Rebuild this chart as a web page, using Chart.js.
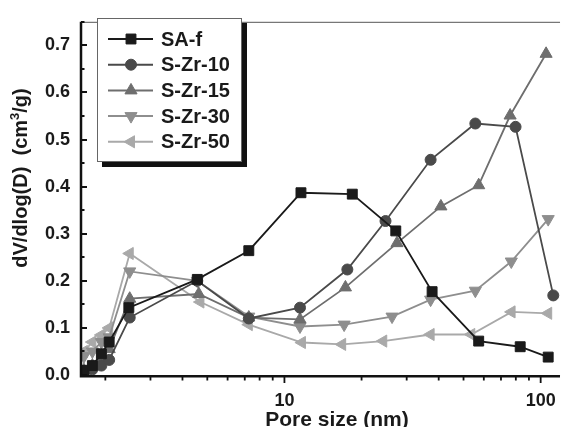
<!DOCTYPE html>
<html><head><meta charset="utf-8">
<script src="https://cdn.jsdelivr.net/npm/chart.js@4"></script>
<style>html,body{margin:0;padding:0;background:#fff}#wrap{width:571px;height:427px;position:relative}</style>
</head><body><div id="wrap"><canvas id="c" width="571" height="427"></canvas></div>
<script>
const seriesNames = ['SA-f', 'S-Zr-10', 'S-Zr-15', 'S-Zr-30', 'S-Zr-50'];

const poreSAf = [1.65, 1.78, 1.93, 2.07, 2.47, 4.57, 7.26, 11.6, 18.4, 27.2, 37.7, 57.3, 83.2, 107];
const dvSAf   = [0.010, 0.020, 0.045, 0.070, 0.143, 0.203, 0.264, 0.387, 0.384, 0.306, 0.177, 0.072, 0.060, 0.038];

const poreZr10 = [1.65, 1.78, 1.93, 2.07, 2.49, 4.57, 7.26, 11.5, 17.6, 24.8, 37.2, 55.6, 79.8, 112];
const dvZr10   = [0.008, 0.012, 0.020, 0.032, 0.122, 0.200, 0.120, 0.143, 0.224, 0.327, 0.457, 0.534, 0.527, 0.169];

const poreZr15 = [1.65, 1.78, 1.93, 2.07, 2.49, 4.63, 7.26, 11.5, 17.3, 27.5, 40.8, 57.3, 76, 105];
const dvZr15   = [0.010, 0.020, 0.035, 0.055, 0.162, 0.172, 0.122, 0.118, 0.186, 0.280, 0.358, 0.403, 0.551, 0.682];

const poreZr30 = [1.65, 1.78, 1.93, 2.07, 2.49, 4.57, 7.26, 11.5, 17.1, 26.3, 37.2, 55.6, 76.8, 107];
const dvZr30   = [0.040, 0.050, 0.070, 0.080, 0.220, 0.200, 0.124, 0.103, 0.107, 0.124, 0.160, 0.179, 0.241, 0.331];

const poreZr50 = [1.65, 1.78, 1.93, 2.07, 2.49, 4.70, 7.26, 11.7, 16.8, 24.3, 37.2, 53.6, 77, 107];
const dvZr50   = [0.050, 0.070, 0.085, 0.100, 0.258, 0.155, 0.107, 0.069, 0.065, 0.072, 0.086, 0.086, 0.134, 0.131];

const yTickValues = [0.0, 0.1, 0.2, 0.3, 0.4, 0.5, 0.6, 0.7];
const xTickLabels = [10, 100];
const xTitle = 'Pore size (nm)';
const yTitleParts = ['dV/dlog(D)  (cm', '3', '/g)'];

const colors = ['#1a1a1a', '#4a4a4a', '#6e6e6e', '#8e8e8e', '#a9a9a9'];
const styles = [
  {pointStyle: 'rect', radius: 7, rotation: 0},
  {pointStyle: 'circle', radius: 5.5, rotation: 0},
  {pointStyle: 'triangle', radius: 7, rotation: 0},
  {pointStyle: 'triangle', radius: 7, rotation: 180},
  {pointStyle: 'triangle', radius: 7, rotation: -90}
];

const xs = [poreSAf, poreZr10, poreZr15, poreZr30, poreZr50];
const ys = [dvSAf, dvZr10, dvZr15, dvZr30, dvZr50];

const datasets = seriesNames.map((name, i) => ({
  label: name,
  data: xs[i].map((x, j) => ({x: x, y: ys[i][j]})),
  borderColor: colors[i],
  backgroundColor: colors[i],
  borderWidth: 1.8,
  pointStyle: styles[i].pointStyle,
  pointRadius: styles[i].radius,
  pointRotation: styles[i].rotation,
  pointBorderWidth: 1,
  pointBackgroundColor: colors[i],
  pointBorderColor: colors[i],
  tension: 0
}));

function drawMarker(ctx, st, color, x, y) {
  const r = st.radius;
  ctx.save();
  ctx.fillStyle = color; ctx.strokeStyle = color; ctx.lineWidth = 1;
  ctx.beginPath();
  if (st.pointStyle === 'rect') {
    const s = Math.SQRT1_2 * r;
    ctx.rect(x - s, y - s, 2 * s, 2 * s);
  } else if (st.pointStyle === 'circle') {
    ctx.arc(x, y, r, 0, Math.PI * 2);
  } else {
    let rad = st.rotation * Math.PI / 180;
    ctx.moveTo(x + Math.sin(rad) * r, y - Math.cos(rad) * r);
    rad += 2 * Math.PI / 3;
    ctx.lineTo(x + Math.sin(rad) * r, y - Math.cos(rad) * r);
    rad += 2 * Math.PI / 3;
    ctx.lineTo(x + Math.sin(rad) * r, y - Math.cos(rad) * r);
    ctx.closePath();
  }
  ctx.fill(); ctx.stroke();
  ctx.restore();
}

const decor = {
  id: 'decor',
  afterDraw(chart) {
    const ctx = chart.ctx;
    const a = chart.chartArea;
    const xS = chart.scales.x, yS = chart.scales.y;
    ctx.save();
    // top frame
    ctx.strokeStyle = '#555'; ctx.lineWidth = 1;
    ctx.beginPath(); ctx.moveTo(a.left, a.top + 0.5); ctx.lineTo(a.right, a.top + 0.5); ctx.stroke();
    // axes
    ctx.strokeStyle = '#111'; ctx.lineWidth = 2.5;
    ctx.beginPath(); ctx.moveTo(a.left, a.top); ctx.lineTo(a.left, a.bottom + 1.2); ctx.lineTo(a.right, a.bottom + 1.2); ctx.stroke();
    // y ticks (inward)
    ctx.lineWidth = 2;
    for (let k = 0; k <= 15; k++) {
      const v = k * 0.05;
      const py = Math.round(yS.getPixelForValue(v)) + 0.0;
      const len = (k % 2 === 0) ? 6 : 3.5;
      ctx.beginPath(); ctx.moveTo(a.left, py); ctx.lineTo(a.left + len, py); ctx.stroke();
    }
    // x ticks (outward)
    ctx.lineWidth = 1.8;
    for (let e = 0; e <= 2; e++) {
      for (let m = 1; m <= 9; m++) {
        const v = m * Math.pow(10, e);
        if (v < xS.min || v > xS.max) continue;
        const px = xS.getPixelForValue(v);
        const len = (m === 1) ? 7 : 4.5;
        ctx.beginPath(); ctx.moveTo(px, a.bottom + 1); ctx.lineTo(px, a.bottom + 1 + len); ctx.stroke();
      }
    }
    // axis titles
    ctx.fillStyle = '#1a1a1a';
    ctx.font = 'bold 21px "Liberation Sans", Arial, sans-serif';
    ctx.textAlign = 'center'; ctx.textBaseline = 'alphabetic';
    ctx.fillText(xTitle, (a.left + 571) / 2 + 11, 426);

    ctx.save();
    ctx.translate(27, 178);
    ctx.rotate(-Math.PI / 2);
    const fMain = 'bold 20px "Liberation Sans", Arial, sans-serif';
    const fSup = 'bold 13px "Liberation Sans", Arial, sans-serif';
    ctx.font = fMain; const w0 = ctx.measureText(yTitleParts[0]).width;
    const w2 = ctx.measureText(yTitleParts[2]).width;
    ctx.font = fSup; const w1 = ctx.measureText(yTitleParts[1]).width;
    let sx = -(w0 + w1 + w2) / 2;
    ctx.textAlign = 'left';
    ctx.font = fMain; ctx.fillText(yTitleParts[0], sx, 0); sx += w0;
    ctx.font = fSup; ctx.fillText(yTitleParts[1], sx, -8); sx += w1;
    ctx.font = fMain; ctx.fillText(yTitleParts[2], sx, 0);
    ctx.restore();

    // legend
    const lx = 97, ly = 18, lw = 145, lh = 144, sh = 5;
    ctx.fillStyle = '#111';
    ctx.fillRect(lx + sh, ly + sh, lw, lh);
    ctx.fillStyle = '#fff';
    ctx.fillRect(lx, ly, lw, lh);
    ctx.strokeStyle = '#666'; ctx.lineWidth = 1;
    ctx.strokeRect(lx + 0.5, ly + 0.5, lw - 1, lh - 1);
    ctx.font = 'bold 20px "Liberation Sans", Arial, sans-serif';
    ctx.textAlign = 'left'; ctx.textBaseline = 'middle';
    chart.data.datasets.forEach((ds, i) => {
      const ry = ly + 21 + i * 25.7;
      ctx.strokeStyle = ds.borderColor; ctx.lineWidth = 2;
      ctx.beginPath(); ctx.moveTo(lx + 11, ry); ctx.lineTo(lx + 56, ry); ctx.stroke();
      drawMarker(ctx, styles[i], ds.borderColor, lx + 34, ry);
      ctx.fillStyle = '#1a1a1a';
      ctx.fillText(ds.label, lx + 64, ry + 1);
    });
    ctx.restore();
  }
};

new Chart(document.getElementById('c'), {
  type: 'line',
  data: {datasets: datasets},
  options: {
    responsive: false,
    animation: false,
    devicePixelRatio: 1,
    layout: {padding: {top: 12, right: 0, left: 0, bottom: 0}},
    plugins: {legend: {display: false}, tooltip: {enabled: false}},
    scales: {
      x: {
        type: 'logarithmic',
        min: 1.607, max: 119,
        grid: {display: false, drawTicks: false},
        border: {display: false},
        afterBuildTicks: s => { s.ticks = xTickLabels.map(v => ({value: v})); },
        afterFit: s => { s.height = 52; },
        ticks: {
          autoSkip: false, maxRotation: 0, padding: 15, color: '#1a1a1a',
          font: {family: '"Liberation Sans", Arial, sans-serif', size: 18, weight: 'bold'},
          callback: v => String(v)
        }
      },
      y: {
        min: 0, max: 0.75,
        grid: {display: false, drawTicks: false},
        border: {display: false},
        afterBuildTicks: s => { s.ticks = yTickValues.map(v => ({value: v})); },
        afterFit: s => { s.width = 81; },
        ticks: {
          padding: 11, color: '#1a1a1a',
          font: {family: '"Liberation Sans", Arial, sans-serif', size: 18, weight: 'bold'},
          callback: v => Number(v).toFixed(1)
        }
      }
    }
  },
  plugins: [decor]
});
</script>
</body></html>
